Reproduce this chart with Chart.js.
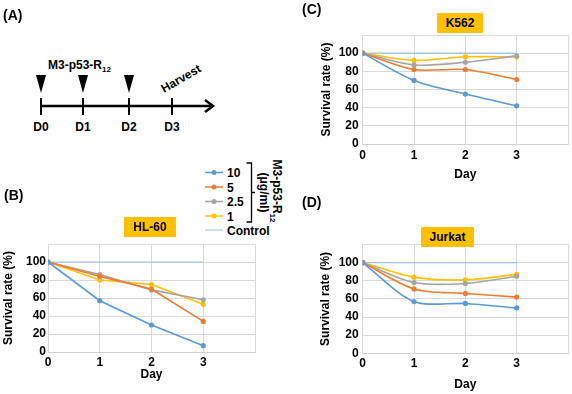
<!DOCTYPE html>
<html>
<head>
<meta charset="utf-8">
<script src="https://cdn.jsdelivr.net/npm/chart.js@4.4.1/dist/chart.umd.min.js"></script>
<style>
  body { margin: 0; background: #fff; font-family: "Liberation Sans", Arial, sans-serif; }
  #wrap { position: relative; width: 572px; height: 394px; overflow: hidden; }
  #wrap canvas, #wrap svg { position: absolute; left: 0; top: 0; }
  .panel { position: absolute; font-weight: bold; font-size: 14px; line-height: 16px; }
  .tag { position: absolute; background: #FFC000; font-weight: bold; font-size: 12px;
         display: flex; align-items: center; justify-content: center; }
</style>
</head>
<body>
<div id="wrap">
  <svg width="572" height="394" font-family="Liberation Sans, Arial, sans-serif" font-weight="bold">
    <!-- (A) treatment schedule -->
    <g id="schema" stroke="#000" fill="none">
      <line x1="41" y1="106" x2="212" y2="106" stroke-width="2.5"/>
      <polyline points="205,100 213,106 205,112" stroke-width="2.5"/>
    </g>
    <g id="legend"></g>
  </svg>
  <canvas id="chartB" width="572" height="394"></canvas>
  <canvas id="chartC" width="572" height="394"></canvas>
  <canvas id="chartD" width="572" height="394"></canvas>

  <div class="panel" style="left:3px;top:7px">(A)</div>
  <div class="panel" style="left:4px;top:187px">(B)</div>
  <div class="panel" style="left:302px;top:1px">(C)</div>
  <div class="panel" style="left:302px;top:194px">(D)</div>

  <div class="tag" style="left:124px;top:217px;width:52px;height:20px">HL-60</div>
  <div class="tag" style="left:437px;top:13px;width:46px;height:20px">K562</div>
  <div class="tag" style="left:421px;top:227px;width:53px;height:20px">Jurkat</div>
</div>

<script>
// days after first treatment
const days = [0, 1, 2, 3];
const scheduleLabels = ['D0', 'D1', 'D2', 'D3'];
const doseDays = [0, 1, 2];
const doseLabels = ['10', '5', '2.5', '1'];
const doseColors = ['#5B9BD5', '#ED7D31', '#A5A5A5', '#FFC000'];
const controlColor = '#9DC3E6';

// survival rate (%) per dose, HL-60
const hl60Dose10 = [100, 57, 30, 7];
const hl60Dose5 = [100, 84, 70, 34];
const hl60Dose2_5 = [100, 86, 69, 58];
const hl60Dose1 = [100, 80, 75, 53];

// K562
const k562Dose10 = [100, 70, 55, 42];
const k562Dose5 = [100, 82, 82, 71];
const k562Dose2_5 = [100, 87, 90, 97];
const k562Dose1 = [100, 92, 96, 96];

// Jurkat
const jurkatDose10 = [100, 57, 55, 50];
const jurkatDose5 = [100, 71, 66, 62];
const jurkatDose2_5 = [100, 78, 77, 85];
const jurkatDose1 = [100, 84, 81, 87];

const controlValues = [100, 100, 100, 100];

const FONT = 'Liberation Sans, Arial, sans-serif';
Chart.defaults.font.family = FONT;
Chart.defaults.font.weight = 'bold';
Chart.defaults.font.size = 12;
Chart.defaults.color = '#000';

// --- schematic (A) ---
const svgNS = 'http://www.w3.org/2000/svg';
function el(parent, tag, attrs, text) {
    const e = document.createElementNS(svgNS, tag);
    for (const k in attrs) e.setAttribute(k, attrs[k]);
    if (text !== undefined) e.textContent = text;
    parent.appendChild(e);
    return e;
}
const schema = document.getElementById('schema');
const svg = schema.parentNode;
const dayX = [41, 83, 129, 172];
scheduleLabels.forEach((lab, i) => {
    el(schema, 'line', { x1: dayX[i], y1: 98, x2: dayX[i], y2: 115, 'stroke-width': 2 });
    el(svg, 'text', { x: dayX[i], y: 131, 'text-anchor': 'middle', 'font-size': 12 }, lab);
});
doseDays.forEach(d => {
    const x = dayX[d];
    el(svg, 'polygon', { points: `${x - 5},75 ${x + 5},75 ${x},93`, fill: '#000' });
});
const drug = el(svg, 'text', { x: 48, y: 69, 'font-size': 12 }, 'M3-p53-R');
el(drug, 'tspan', { 'font-size': 8, dy: 3 }, '12');
el(svg, 'text', { x: 0, y: 0, 'font-size': 12, 'text-anchor': 'middle',
    transform: 'translate(183,82) rotate(-30)' }, 'Harvest');

// --- legend next to (B) ---
const legend = document.getElementById('legend');
const rowY = [172.5, 187, 201.5, 216, 230];
doseLabels.forEach((lab, i) => {
    el(legend, 'line', { x1: 205, y1: rowY[i], x2: 223, y2: rowY[i], stroke: doseColors[i], 'stroke-width': 1.5 });
    el(legend, 'circle', { cx: 214, cy: rowY[i], r: 2.5, fill: doseColors[i] });
    el(legend, 'text', { x: 227, y: rowY[i] + 4.5, 'font-size': 12 }, lab);
});
el(legend, 'line', { x1: 205, y1: rowY[4], x2: 223, y2: rowY[4], stroke: controlColor, 'stroke-width': 1 });
el(legend, 'text', { x: 227, y: rowY[4] + 4.5, 'font-size': 12 }, 'Control');
el(legend, 'path', { d: 'M246.5 163 H251.5 V222 H246.5 M251.5 192.5 H255', stroke: '#000', 'stroke-width': 1.3, fill: 'none' });
const unit1 = el(legend, 'text', { x: 0, y: 0, 'font-size': 12, 'text-anchor': 'middle',
    transform: 'translate(273,191) rotate(90)' }, 'M3-p53-R');
el(unit1, 'tspan', { 'font-size': 8, dy: 3 }, '12');
el(legend, 'text', { x: 0, y: 0, 'font-size': 12, 'text-anchor': 'middle',
    transform: 'translate(259.5,192.5) rotate(90)' }, '(\u03bcg/ml)');

// --- survival charts ---
function toPoints(values) {
    return values.map((v, i) => ({ x: days[i], y: v }));
}

function survivalChart(id, series, box, tension) {
    const datasets = series.map((vals, i) => ({
        label: doseLabels[i],
        data: toPoints(vals),
        borderColor: doseColors[i],
        backgroundColor: doseColors[i],
        borderWidth: 1.6,
        pointRadius: 2.6,
        pointBorderWidth: 0,
        tension: tension
    }));
    datasets.push({
        label: 'Control',
        data: toPoints(controlValues),
        borderColor: controlColor,
        borderWidth: 1.2,
        pointRadius: 0,
        tension: 0
    });

    const lh = 12 * 1.2;
    const padLeft = box.yTitleX - lh / 2;
    const xBottom = box.xTitleY + lh / 2;

    return new Chart(document.getElementById(id), {
        type: 'line',
        data: { datasets },
        options: {
            responsive: false,
            animation: false,
            devicePixelRatio: 1,
            layout: {
                padding: {
                    left: padLeft,
                    right: 572 - box.right,
                    top: box.top,
                    bottom: 394 - xBottom
                }
            },
            plugins: {
                legend: { display: false },
                title: { display: false },
                tooltip: { enabled: false }
            },
            scales: {
                x: {
                    type: 'linear',
                    min: 0,
                    max: 4,
                    afterFit: s => { s.height = xBottom - box.bottom; },
                    grid: { color: '#D9D9D9', drawTicks: false },
                    border: { color: '#D0D0D0' },
                    ticks: {
                        stepSize: 1,
                        autoSkip: false,
                        maxRotation: 0,
                        padding: box.xPad,
                        callback: v => (v === 4 ? '' : v)
                    },
                    title: { display: true, text: 'Day', padding: 0, font: { size: 12, weight: 'bold' } }
                },
                y: {
                    min: 0,
                    max: 120,
                    afterFit: s => { s.width = box.left - padLeft; },
                    grid: { color: '#D9D9D9', drawTicks: false },
                    border: { color: '#D9D9D9' },
                    ticks: {
                        stepSize: 20,
                        padding: box.yPad,
                        callback: v => (v === 120 ? '' : v)
                    },
                    title: { display: true, text: 'Survival rate (%)', padding: 0, font: { size: 12, weight: 'bold' } }
                }
            }
        }
    });
}

survivalChart('chartB', [hl60Dose10, hl60Dose5, hl60Dose2_5, hl60Dose1],
    { left: 48, right: 255, top: 244, bottom: 352, yTitleX: 9, xTitleY: 375, xPad: 3, yPad: 2 }, 0);
survivalChart('chartC', [k562Dose10, k562Dose5, k562Dose2_5, k562Dose1],
    { left: 362.7, right: 568, top: 35, bottom: 144, yTitleX: 327, xTitleY: 175, xPad: 4, yPad: 4 }, 0.3);
survivalChart('chartD', [jurkatDose10, jurkatDose5, jurkatDose2_5, jurkatDose1],
    { left: 362.7, right: 568, top: 244.5, bottom: 353.3, yTitleX: 326, xTitleY: 385, xPad: 3, yPad: 4 }, 0.3);
</script>
</body>
</html>
